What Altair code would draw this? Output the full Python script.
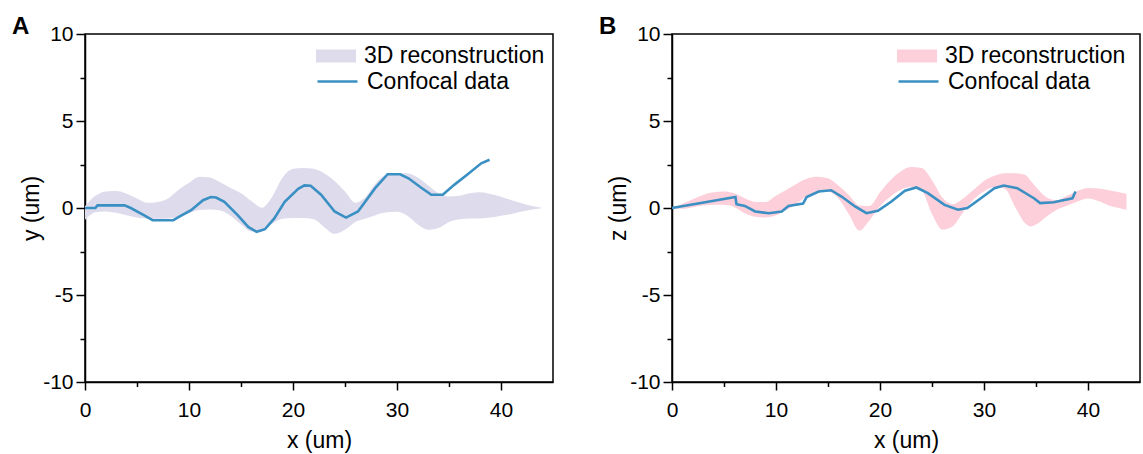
import altair as alt
import pandas as pd

# ---------------- data ----------------
# Panel A : band (3D reconstruction) on a common x grid
xa_band = list(range(0, 45))
upper_a = [0.1, 0.7, 0.95, 0.97, 0.82, 0.55, 0.3, 0.35, 0.55, 1.05,
           1.45, 1.8, 1.75, 1.48, 1.15, 0.85, 0.4, 0.02, 0.65, 1.75,
           2.25, 2.3, 2.25, 2.0, 1.55, 0.95, 0.3, 0.65, 1.45, 1.92,
           2.0, 2.0, 1.75, 1.3, 0.85, 0.66, 0.7, 0.85, 0.9, 0.8,
           0.65, 0.45, 0.28, 0.12, 0.0]
lower_a = [-0.68, -0.25, -0.2, -0.28, -0.42, -0.55, -0.62, -0.62, -0.6, -0.5,
           -0.3, -0.12, -0.08, -0.15, -0.45, -0.95, -1.35, -1.35, -0.9, -0.62,
           -0.58, -0.58, -0.65, -1.1, -1.48, -1.25, -0.8, -0.6, -0.4, -0.25,
           -0.22, -0.45, -0.95, -1.25, -1.15, -0.8, -0.65, -0.6, -0.6, -0.55,
           -0.45, -0.35, -0.2, -0.08, 0.0]

# Panel A : confocal data
xa_line = [0, 1.0, 1.2, 3.8, 4.4, 5.7, 6.5, 8.5, 8.9, 10.2, 11.35, 12.1, 12.6,
           13.4, 14.7, 15.7, 16.5, 17.3, 18.2, 19.2, 20.5, 21.1, 21.7, 22.7,
           24.0, 25.1, 26.25, 27.9, 29.1, 30.3, 31.1, 32.3, 33.3, 34.4, 35.5,
           36.8, 38.1, 38.9]
ya_line = [0, 0.0, 0.15, 0.15, 0.0, -0.42, -0.7, -0.7, -0.55, -0.13, 0.45, 0.63,
           0.6, 0.35, -0.42, -1.09, -1.37, -1.22, -0.6, 0.35, 1.1, 1.3, 1.28,
           0.76, -0.2, -0.55, -0.2, 1.14, 1.94, 1.94, 1.71, 1.18, 0.76, 0.76,
           1.33, 1.94, 2.57, 2.77]

# Panel B : band (3D reconstruction)
xb_band = [0, 1, 2, 3, 4, 5, 6, 7, 8, 9, 10, 11, 12, 13, 14, 15, 16, 17, 18, 19,
           20, 21, 22, 23, 24, 25, 26, 27, 28, 29, 30, 31, 32, 33, 34, 34.5, 35,
           36, 37, 38, 39, 40, 41, 42, 43, 43.7]
upper_b = [0.0, 0.25, 0.5, 0.75, 0.9, 0.95, 0.85, 0.56, 0.35, 0.35,
           0.7, 1.05, 1.4, 1.7, 1.8, 1.71, 1.3, 0.75, 0.15, 0.12,
           0.9, 1.6, 2.1, 2.35, 2.3, 1.6, 0.6, 0.22, 0.55, 1.05,
           1.55, 1.85, 2.0, 2.0, 1.9, 1.55, 1.2, 0.62, 0.45, 0.7, 0.97,
           1.15, 1.12, 1.02, 0.9, 0.82]
lower_b = [-0.05, -0.05, 0.05, 0.15, 0.18, 0.18, 0.05, -0.3, -0.5, -0.55,
           -0.42, -0.1, 0.25, 0.7, 0.9, 0.95, 0.55, -0.35, -1.3, -0.7,
           0.1, 0.65, 1.05, 1.2, 1.0, -0.35, -1.25, -1.05, -0.25, 0.5,
           0.95, 1.2, 1.1, 0.05, -0.9, -1.06, -0.95, -0.5, -0.1, 0.15, 0.38,
           0.55, 0.4, 0.15, 0.0, -0.1]

# Panel B : confocal data
xb_line = [0, 6.1, 6.2, 7.0, 8.0, 9.3, 10.55, 11.2, 12.6, 12.95, 14.1, 15.3,
           16.3, 17.6, 18.7, 19.8, 21.1, 22.4, 23.5, 24.6, 26.2, 27.5, 28.4,
           29.7, 31.0, 31.9, 33.2, 34.8, 35.4, 36.7, 38.5, 38.8]
yb_line = [0, 0.63, 0.22, 0.12, -0.2, -0.3, -0.2, 0.12, 0.25, 0.63, 0.95, 1.02,
           0.66, 0.09, -0.3, -0.16, 0.37, 0.99, 1.18, 0.85, 0.18, -0.1, 0.0,
           0.56, 1.14, 1.29, 1.14, 0.56, 0.28, 0.33, 0.56, 0.95]

x_ticks = [0, 5, 10, 15, 20, 25, 30, 35, 40]
y_ticks = [-10, -7.5, -5, -2.5, 0, 2.5, 5, 7.5, 10]

LAVENDER = "#dedcec"
PINK = "#fdcfda"
BLUE = "#3a8fc3"
FONT = "Liberation Sans"
RECT_PATH = "M-1,-0.33L1,-0.33L1,0.33L-1,0.33Z"


def panel(letter, xs, up, lo, lx, ly, band_color, ytitle, legx):
    band_df = pd.DataFrame({"x": xs, "upper": up, "lower": lo,
                            "series": "3D reconstruction"})
    line_df = pd.DataFrame({"x": lx, "y": ly, "series": "Confocal data"})

    xscale = alt.Scale(domain=[0, 45], nice=False, zero=False)
    yscale = alt.Scale(domain=[-10, 10], nice=False, zero=False)
    xaxis = alt.Axis(values=x_ticks, title="x (um)",
                     labelExpr="datum.value % 10 === 0 ? '' + datum.value : ''",
                     tickSize={"condition": {"test": "datum.value % 10 === 0", "value": 8}, "value": 4.5},
                     labelPadding=9, titlePadding=9, labelOverlap=False,
                     labelFlush=False)
    yaxis = alt.Axis(values=y_ticks, title=ytitle,
                     labelExpr="datum.value % 5 === 0 ? '' + datum.value : ''",
                     tickSize={"condition": {"test": "datum.value % 5 === 0", "value": 9}, "value": 5},
                     labelPadding=3, titlePadding=-1, labelOverlap=False,
                     labelFlush=False)

    area = alt.Chart(band_df).mark_area(interpolate="monotone", opacity=1).encode(
        x=alt.X("x:Q", scale=xscale, axis=xaxis),
        y=alt.Y("upper:Q", scale=yscale, axis=yaxis),
        y2="lower:Q",
        fill=alt.Fill("series:N",
                      scale=alt.Scale(domain=["3D reconstruction"], range=[band_color]),
                      legend=alt.Legend(title=None, orient="none", legendX=legx, legendY=2,
                                        symbolType=RECT_PATH, symbolSize=1600,
                                        symbolStrokeWidth=0, symbolOpacity=1,
                                        labelOffset=8, padding=0)),
    )
    line = alt.Chart(line_df).mark_line(strokeWidth=2.6).encode(
        x=alt.X("x:Q", scale=xscale, axis=xaxis),
        y=alt.Y("y:Q", scale=yscale, axis=yaxis),
        stroke=alt.Stroke("series:N",
                          scale=alt.Scale(domain=["Confocal data"], range=[BLUE]),
                          legend=alt.Legend(title=None, orient="none", legendX=legx, legendY=26,
                                            symbolType="stroke", symbolSize=1600,
                                            symbolStrokeWidth=2.6, labelOffset=8, padding=0)),
    )
    return alt.layer(area, line).properties(
        width=468, height=348,
        title=alt.TitleParams(letter, anchor="start", frame="group", dx=-73,
                              fontSize=24, fontWeight="bold", baseline="alphabetic",
                              offset=0, dy=35),
    )


pa = panel("A", xa_band, upper_a, lower_a, xa_line, ya_line, LAVENDER, "y (um)", 231)
pb = panel("B", xb_band, upper_b, lower_b, xb_line, yb_line, PINK, "z (um)", 225)

chart = alt.hconcat(pa, pb, spacing=44).resolve_scale(
    fill="independent", stroke="independent"
).resolve_legend(
    fill="independent", stroke="independent"
).configure(
    font=FONT, padding={"left": 11, "top": 14, "right": 0, "bottom": 0}
).configure_view(
    stroke="black", strokeWidth=1.5
).configure_axis(
    domainColor="black", domainWidth=1.5, tickColor="black", tickWidth=1.5,
    labelColor="black", titleColor="black", labelFontSize=21, titleFontSize=23,
    titleFontWeight="normal", grid=False, labelFont=FONT, titleFont=FONT,
).configure_title(
    color="black", font=FONT
).configure_legend(
    labelFontSize=23, labelColor="black", labelFont=FONT, labelLimit=400
)

chart.save("out.html", embed_options={"renderer": "svg", "actions": False})
